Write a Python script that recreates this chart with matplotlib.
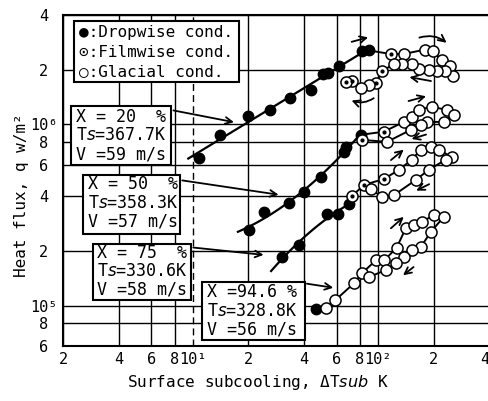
import numpy as np
import matplotlib
matplotlib.use('Agg')
import matplotlib.pyplot as plt
from matplotlib.patches import Rectangle

plt.rcParams['font.family'] = ['DejaVu Sans Mono', 'DejaVu Sans']

# X = 20 %
drop1_x = [10.9, 14.0, 19.8, 26.3, 33.6, 43.6, 50.6, 54.0, 61.7, 82.0, 89.5]
drop1_y = [6.5e5, 8.75e5, 1.11e6, 1.20e6, 1.40e6, 1.55e6, 1.90e6, 1.92e6, 2.10e6, 2.52e6, 2.55e6]
loop1_x = [117, 138, 180, 198, 222, 246, 253,
           231, 208, 188, 167.5, 153, 135, 122, 105.4, 98, 89.5, 80.7, 72.8, 67]
loop1_y = [2.44e6, 2.44e6, 2.58e6, 2.52e6, 2.25e6, 2.09e6, 1.84e6,
           1.96e6, 1.96e6, 1.98e6, 2.02e6, 2.15e6, 2.15e6, 2.15e6, 1.96e6, 1.69e6, 1.64e6, 1.58e6, 1.74e6, 1.72e6]
loop1_kind = 'fgggggggggggggffggff'

# X = 50 %
drop2_x = [20.2, 24.4, 33.3, 40.0, 49.4, 65.7, 67.3, 81.1]
drop2_y = [2.61e5, 3.29e5, 3.68e5, 4.24e5, 5.13e5, 7.05e5, 7.51e5, 8.75e5]
loop2_x = [107.7, 138, 152, 166, 195, 235, 256, 226, 183, 170, 150, 112, 82]
loop2_y = [9.1e5, 1.03e6, 1.10e6, 1.20e6, 1.25e6, 1.20e6, 1.13e6, 1.03e6, 1.03e6, 9.9e5, 9.3e5, 8.0e5, 8.2e5]
loop2_kind = 'fgggggggggggf'

# X = 75 %
drop3_x = [30.5, 37.6, 53.2, 61.0, 69.9]
drop3_y = [1.85e5, 2.16e5, 3.21e5, 3.21e5, 3.64e5]
loop3_x = [72.5, 84.1, 108, 130, 152, 170, 193, 213, 250, 232, 188, 160, 122, 105, 91.7]
loop3_y = [4.03e5, 4.63e5, 5.0e5, 5.61e5, 6.37e5, 7.23e5, 7.51e5, 7.23e5, 6.61e5,
           6.37e5, 5.61e5, 4.93e5, 4.07e5, 3.97e5, 4.41e5]
loop3_kind = 'fffgggggggggggg'

# X = 94.6 %
drop4_x = [46.4]
drop4_y = [9.57e4]
loop4_x = [52.5, 58.7, 74.3, 82, 97.5, 108, 126, 141.5, 156, 172.5, 200, 226,
           193, 170, 152, 138, 125, 110, 89.5]
loop4_y = [9.68e4, 1.07e5, 1.33e5, 1.51e5, 1.78e5, 1.78e5, 2.08e5, 2.68e5, 2.79e5, 2.89e5, 3.16e5, 3.08e5,
           2.55e5, 2.10e5, 2.03e5, 1.85e5, 1.72e5, 1.57e5, 1.44e5]
loop4_kind = 'g' * 19

x_ticks = [2, 4, 6, 8, 10, 20, 40, 60, 80, 100, 200, 400]
x_labels = ['2', '4', '6', '8', '10¹', '2', '4', '6', '8', '10²', '2', '4']
y_ticks = [6e4, 8e4, 1e5, 2e5, 4e5, 6e5, 8e5, 1e6, 2e6, 4e6]
y_labels = ['6', '8', '10⁵', '2', '4', '6', '8', '10⁶', '2', '4']

cases = [
    ('X = 20  %', 'T$\\mathit{s}$=367.7K', 'V =59 m/s'),
    ('X = 50  %', 'T$\\mathit{s}$=358.3K', 'V =57 m/s'),
    ('X = 75  %', 'T$\\mathit{s}$=330.6K', 'V =58 m/s'),
    ('X =94.6 %', 'T$\\mathit{s}$=328.8K', 'V =56 m/s'),
]

W, H = 489, 401
fig = plt.figure(figsize=(W / 100, H / 100), dpi=100)
ax = fig.add_axes([63 / W, (H - 346) / H, (489.5 - 63) / W, (346 - 15) / H])
ax.set_xscale('log')
ax.set_yscale('log')
ax.set_xlim(2, 400)
ax.set_ylim(6e4, 4e6)
ax.set_xticks(x_ticks)
ax.set_xticklabels(x_labels)
ax.set_yticks(y_ticks)
ax.set_yticklabels(y_labels, ha='center')
ax.minorticks_off()
ax.tick_params(axis='x', length=0, pad=4, labelsize=11)
ax.tick_params(axis='y', length=0, pad=14, labelsize=11)
# last x label sits on the figure edge
ax.get_xticklabels()[-1].set_ha('right')
ax.set_axisbelow(True)
ax.grid(True, color='black', lw=1.0)
ax.get_xgridlines()[4].set_linestyle((0, (5, 3)))
for s in ['left', 'bottom', 'top']:
    ax.spines[s].set_linewidth(1.5)
ax.spines['right'].set_visible(False)


def fig_box(x0, y0, x1, y1):
    ax.add_patch(Rectangle((x0 / W, 1 - y1 / H), (x1 - x0) / W, (y1 - y0) / H,
                           transform=fig.transFigure, fc='white', ec='black',
                           lw=1.5, zorder=3, clip_on=False))


def box_lines(x, y0, lines, step=19.5, size=12):
    for i, t in enumerate(lines):
        fig.text(x / W, 1 - (y0 + i * step) / H, t, fontsize=size,
                 va='center', ha='left', zorder=4)


def draw_case(drop_x, drop_y, loop_x, loop_y, kind, deg):
    lx = np.log10(drop_x)
    ly = np.log10(drop_y)
    if deg:
        c = np.polyfit(lx, ly, deg)
        xs = np.linspace(lx[0] + np.log10(0.87), lx[-1], 60)
        ax.plot(10 ** xs, 10 ** np.polyval(c, xs), color='black', lw=1.6, zorder=4)
        px = [drop_x[-1]] + loop_x
        py = [drop_y[-1]] + loop_y
    else:
        px = drop_x + loop_x
        py = drop_y + loop_y
    ax.plot(px, py, color='black', lw=1.4, zorder=4)
    ax.plot(drop_x, drop_y, 'o', ms=7.5, color='black', zorder=5)
    kind = np.array(list(kind))
    lxa = np.array(loop_x)
    lya = np.array(loop_y)
    ax.plot(lxa, lya, 'o', ms=8, mfc='white', mec='black', mew=1.1, ls='none', zorder=5)
    f = kind == 'f'
    ax.plot(lxa[f], lya[f], 'o', ms=2, color='black', ls='none', zorder=6)


draw_case(drop1_x, drop1_y, loop1_x, loop1_y, loop1_kind, 1)
draw_case(drop2_x, drop2_y, loop2_x, loop2_y, loop2_kind, 2)
draw_case(drop3_x, drop3_y, loop3_x, loop3_y, loop3_kind, 2)
draw_case(drop4_x, drop4_y, loop4_x, loop4_y, loop4_kind, None)

# direction arrows along the loops
arr = dict(arrowstyle='->', lw=1.3, color='black', mutation_scale=12)
direction_arrows = [
    ((69.8, 2.82e6), (91.6, 3.04e6), 0.0),
    ((162, 2.97e6), (241, 2.75e6), -0.3),
    ((200, 1.72e6), (143, 1.83e6), 0.0),
    ((97.7, 1.42e6), (69.8, 1.37e6), -0.3),
    ((141.5, 1.33e6), (188, 1.44e6), 0.0),
    ((188, 8.87e5), (147, 8.21e5), 0.0),
    ((114.5, 6.21e5), (141.5, 7.41e5), 0.0),
    ((195, 4.75e5), (156, 4.24e5), 0.0),
    ((114.5, 2.61e5), (141.5, 3.16e5), 0.0),
    ((160, 1.67e5), (133, 1.44e5), 0.0),
]
for tail, head, rad in direction_arrows:
    ax.annotate('', xy=head, xytext=tail,
                arrowprops=dict(arr, connectionstyle=f'arc3,rad={rad}'), zorder=6)

# legend box
fig_box(74, 21, 239, 82)
box_lines(79, 33, ['●:Dropwise cond.', '⊙:Filmwise cond.', '○:Glacial cond.'], step=19.5, size=11.5)

# condition boxes with pointers
boxes = [(71, 106, 171, 165, 76, 117), (83, 175, 180, 234, 88, 184),
         (93, 244, 191, 300, 97, 253), (202, 282, 305, 340, 207, 292)]
pointers = [((7.62, 1.2e6), (17.3, 1.02e6)), ((8.5, 4.93e5), (30.1, 4.07e5)),
            ((9.75, 2.10e5), (25, 1.90e5)), ((40, 1.33e5), (59.4, 1.25e5))]
for (x0, y0, x1, y1, tx, ty), lines, (tail, head) in zip(boxes, cases, pointers):
    ax.annotate('', xy=head, xytext=tail, arrowprops=arr, zorder=3.5)
    fig_box(x0, y0, x1, y1)
    box_lines(tx, ty, lines, step=18.5, size=12)

fig.text(258 / W, 1 - 383 / H, 'Surface subcooling, ΔT$\\mathit{sub}$ K',
         fontsize=11.5, ha='center', va='center')
fig.text(22 / W, 1 - 195 / H, 'Heat flux, q w/m²', fontsize=11.5,
         rotation=90, ha='center', va='center')

fig.savefig('out.png', dpi=100)
